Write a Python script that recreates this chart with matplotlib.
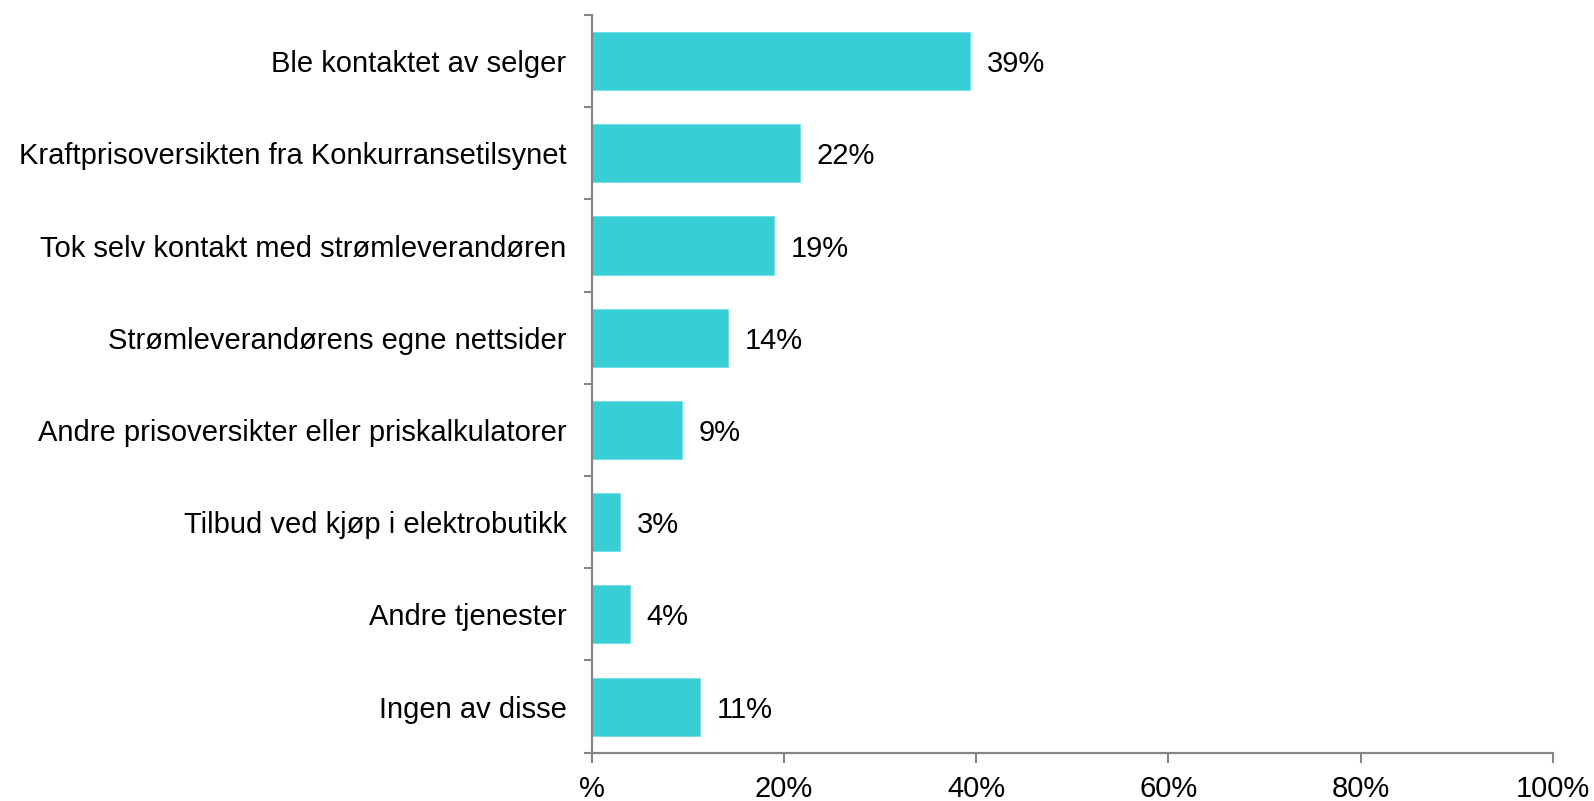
import matplotlib
matplotlib.use("Agg")
import matplotlib.pyplot as plt
from matplotlib.ticker import FixedLocator

categories = [
    "Ble kontaktet av selger",
    "Kraftprisoversikten fra Konkurransetilsynet",
    "Tok selv kontakt med strømleverandøren",
    "Strømleverandørens egne nettsider",
    "Andre prisoversikter eller priskalkulatorer",
    "Tilbud ved kjøp i elektrobutikk",
    "Andre tjenester",
    "Ingen av disse",
]
values = [39.4, 21.7, 19.0, 14.2, 9.4, 3.0, 4.0, 11.3]
value_labels = ["39%", "22%", "19%", "14%", "9%", "3%", "4%", "11%"]
xticks = [0, 20, 40, 60, 80, 100]
xticklabels = ["%", "20%", "40%", "60%", "80%", "100%"]

plt.rcParams['font.family'] = ['Liberation Sans', 'DejaVu Sans']
FS = 21
bar_color = "#38CED6"
axis_color = "#868686"

fig = plt.figure(figsize=(15.94, 8.01), dpi=100)
ax = fig.add_axes([0.3711, 0.0603, 0.9743 - 0.3711, 0.9813 - 0.0603])

y = list(range(len(categories)))
ax.barh(y, values, height=0.63, color=bar_color, edgecolor="#6fdfe4", linewidth=0.6)

for yi, v, lab in zip(y, values, value_labels):
    ax.annotate(lab, (v, yi), xytext=(12, 0), textcoords="offset points",
                va="center_baseline", ha="left", fontsize=FS, color="black")

ax.set_xlim(0, 100)
ax.set_ylim(len(categories) - 0.5, -0.5)

ax.set_yticks(y)
ax.set_yticklabels(categories, fontsize=FS, va="center_baseline")
ax.yaxis.set_minor_locator(FixedLocator([i - 0.5 for i in range(len(categories) + 1)]))
ax.tick_params(axis="y", which="major", length=0, pad=18)
ax.tick_params(axis="y", which="minor", length=6, width=1.5, color=axis_color)

ax.set_xticks(xticks)
ax.set_xticklabels(xticklabels, fontsize=FS)
ax.tick_params(axis="x", which="major", length=7, width=1.5, color=axis_color, pad=9)

for s in ["top", "right"]:
    ax.spines[s].set_visible(False)
for s in ["left", "bottom"]:
    ax.spines[s].set_color(axis_color)
    ax.spines[s].set_linewidth(1.6)

fig.savefig("out.png", dpi=100)
